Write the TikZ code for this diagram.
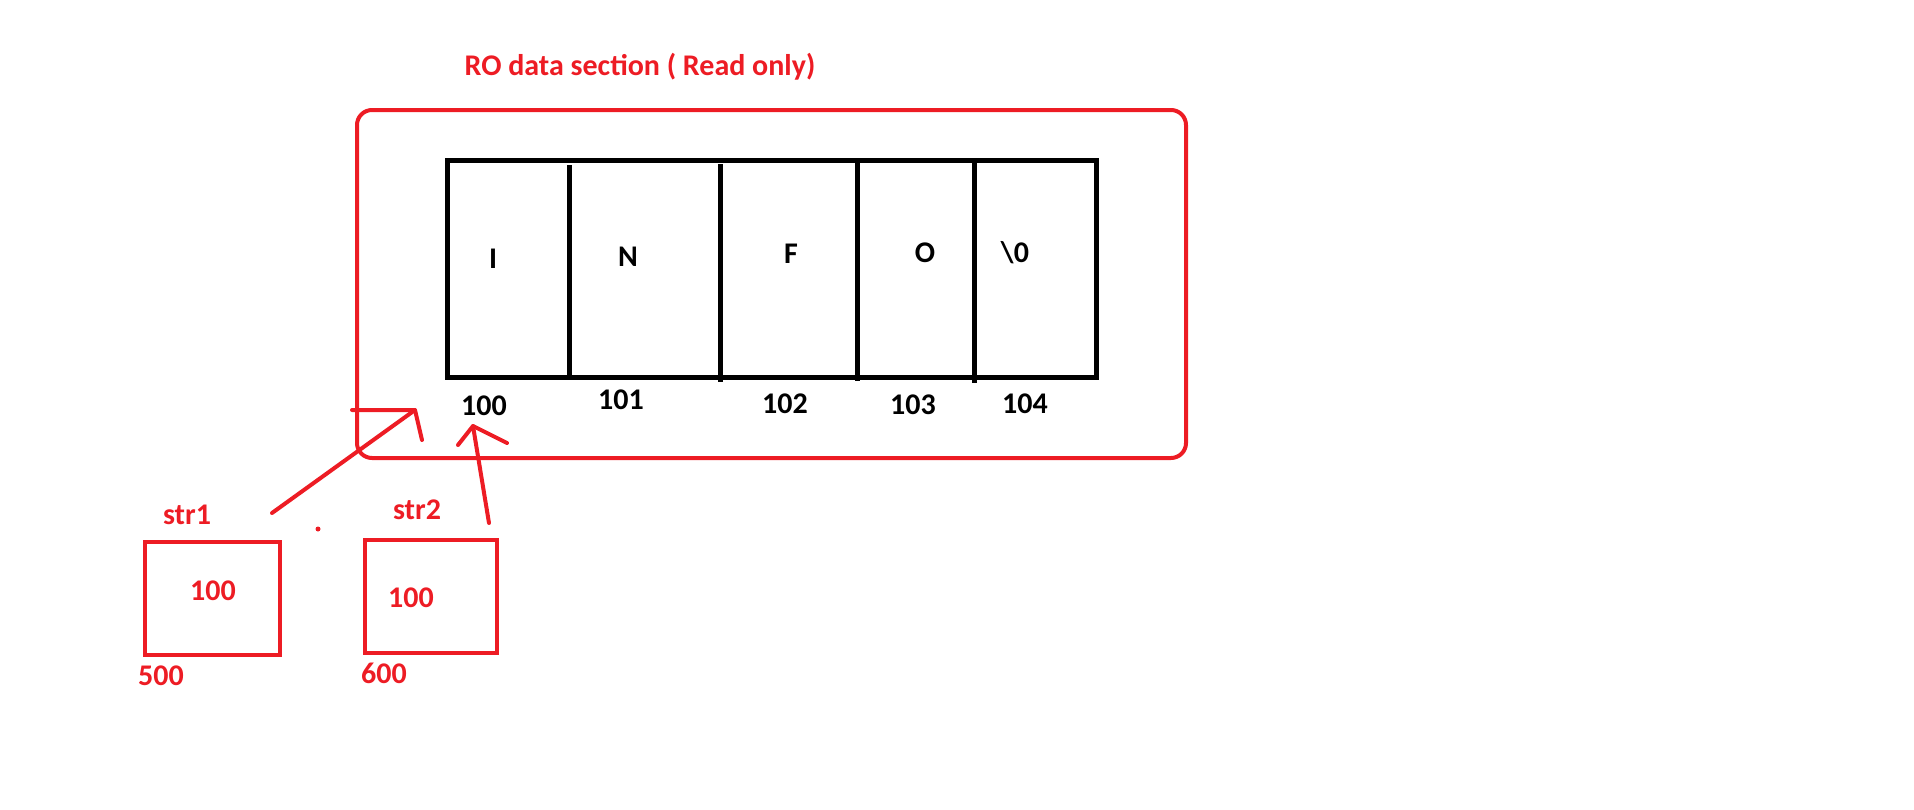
\documentclass[tikz,border=0pt]{standalone}
\usepackage{fontspec}
\setmainfont{Carlito}
\usetikzlibrary{positioning}
\definecolor{paintred}{HTML}{ED1C24}
\tikzset{
  lbl/.style={anchor=base, inner sep=0pt, font=\bfseries\fontsize{30}{35}\selectfont},
  redlbl/.style={lbl, text=paintred},
  redline/.style={paintred, line width=4pt},
  redarrow/.style={redline, line cap=round, line join=round},
  blackline/.style={black, line width=5pt},
  membox/.style={draw, redline, minimum width=135pt, minimum height=113pt, inner sep=0pt}
}
\begin{document}
\begin{tikzpicture}[x=1pt,y=-1pt]
\useasboundingbox (0,0) rectangle (1914,809);
\draw[redline, rounded corners=15pt] (357,110) rectangle (1186,458);
\node[redlbl] (title) at (640,75) {RO data section ( Read only)};
\draw[blackline] (447,160) rectangle (1096,377);
\foreach \x/\ya/\yb in {569/165/377, 720/164/382, 857/160/381, 974/160/383}
  \draw[blackline] (\x,\ya) -- (\x,\yb);
\foreach \ch/\x/\y [count=\i] in {I/493/268, N/628/266, F/791/263, O/925/262, \textbackslash0/1015/262}
  \node[lbl] (cell\i) at (\x,\y) {\ch};
\foreach \a/\x/\y in {100/484/415, 101/621/409, 102/785/413, 103/913/414, 104/1025/413}
  \node[lbl] (addr\a) at (\x,\y) {\a};
\node[membox] (box1) at (212.5,598.5) {};
\node[membox, minimum width=132pt] (box2) at (431,596.5) {};
\node[redlbl] (name1) at (187,524) {str1};
\node[redlbl] (name2) at (417,519) {str2};
\node[redlbl] (val1) at (213,600) {100};
\node[redlbl] (val2) at (411,607) {100};
\node[redlbl] (loc1) at (161,685) {500};
\node[redlbl] (loc2) at (384,683) {600};
\node[circle, fill=paintred, inner sep=0pt, minimum size=5pt] (dot) at (318,529) {};
\coordinate (tail1) at (272,513);
\coordinate (tip1) at (415,410);
\coordinate (tail2) at (489,523);
\coordinate (tip2) at (473,426);
\draw[redarrow] (tail1) -- (tip1);
\draw[redarrow] (tip1) ++(-63,0) -- (tip1) -- ++(7,30);
\draw[redarrow] (tail2) -- (tip2);
\draw[redarrow] (tip2) ++(-15,19) -- (tip2) -- ++(34,17);
\end{tikzpicture}
\end{document}
